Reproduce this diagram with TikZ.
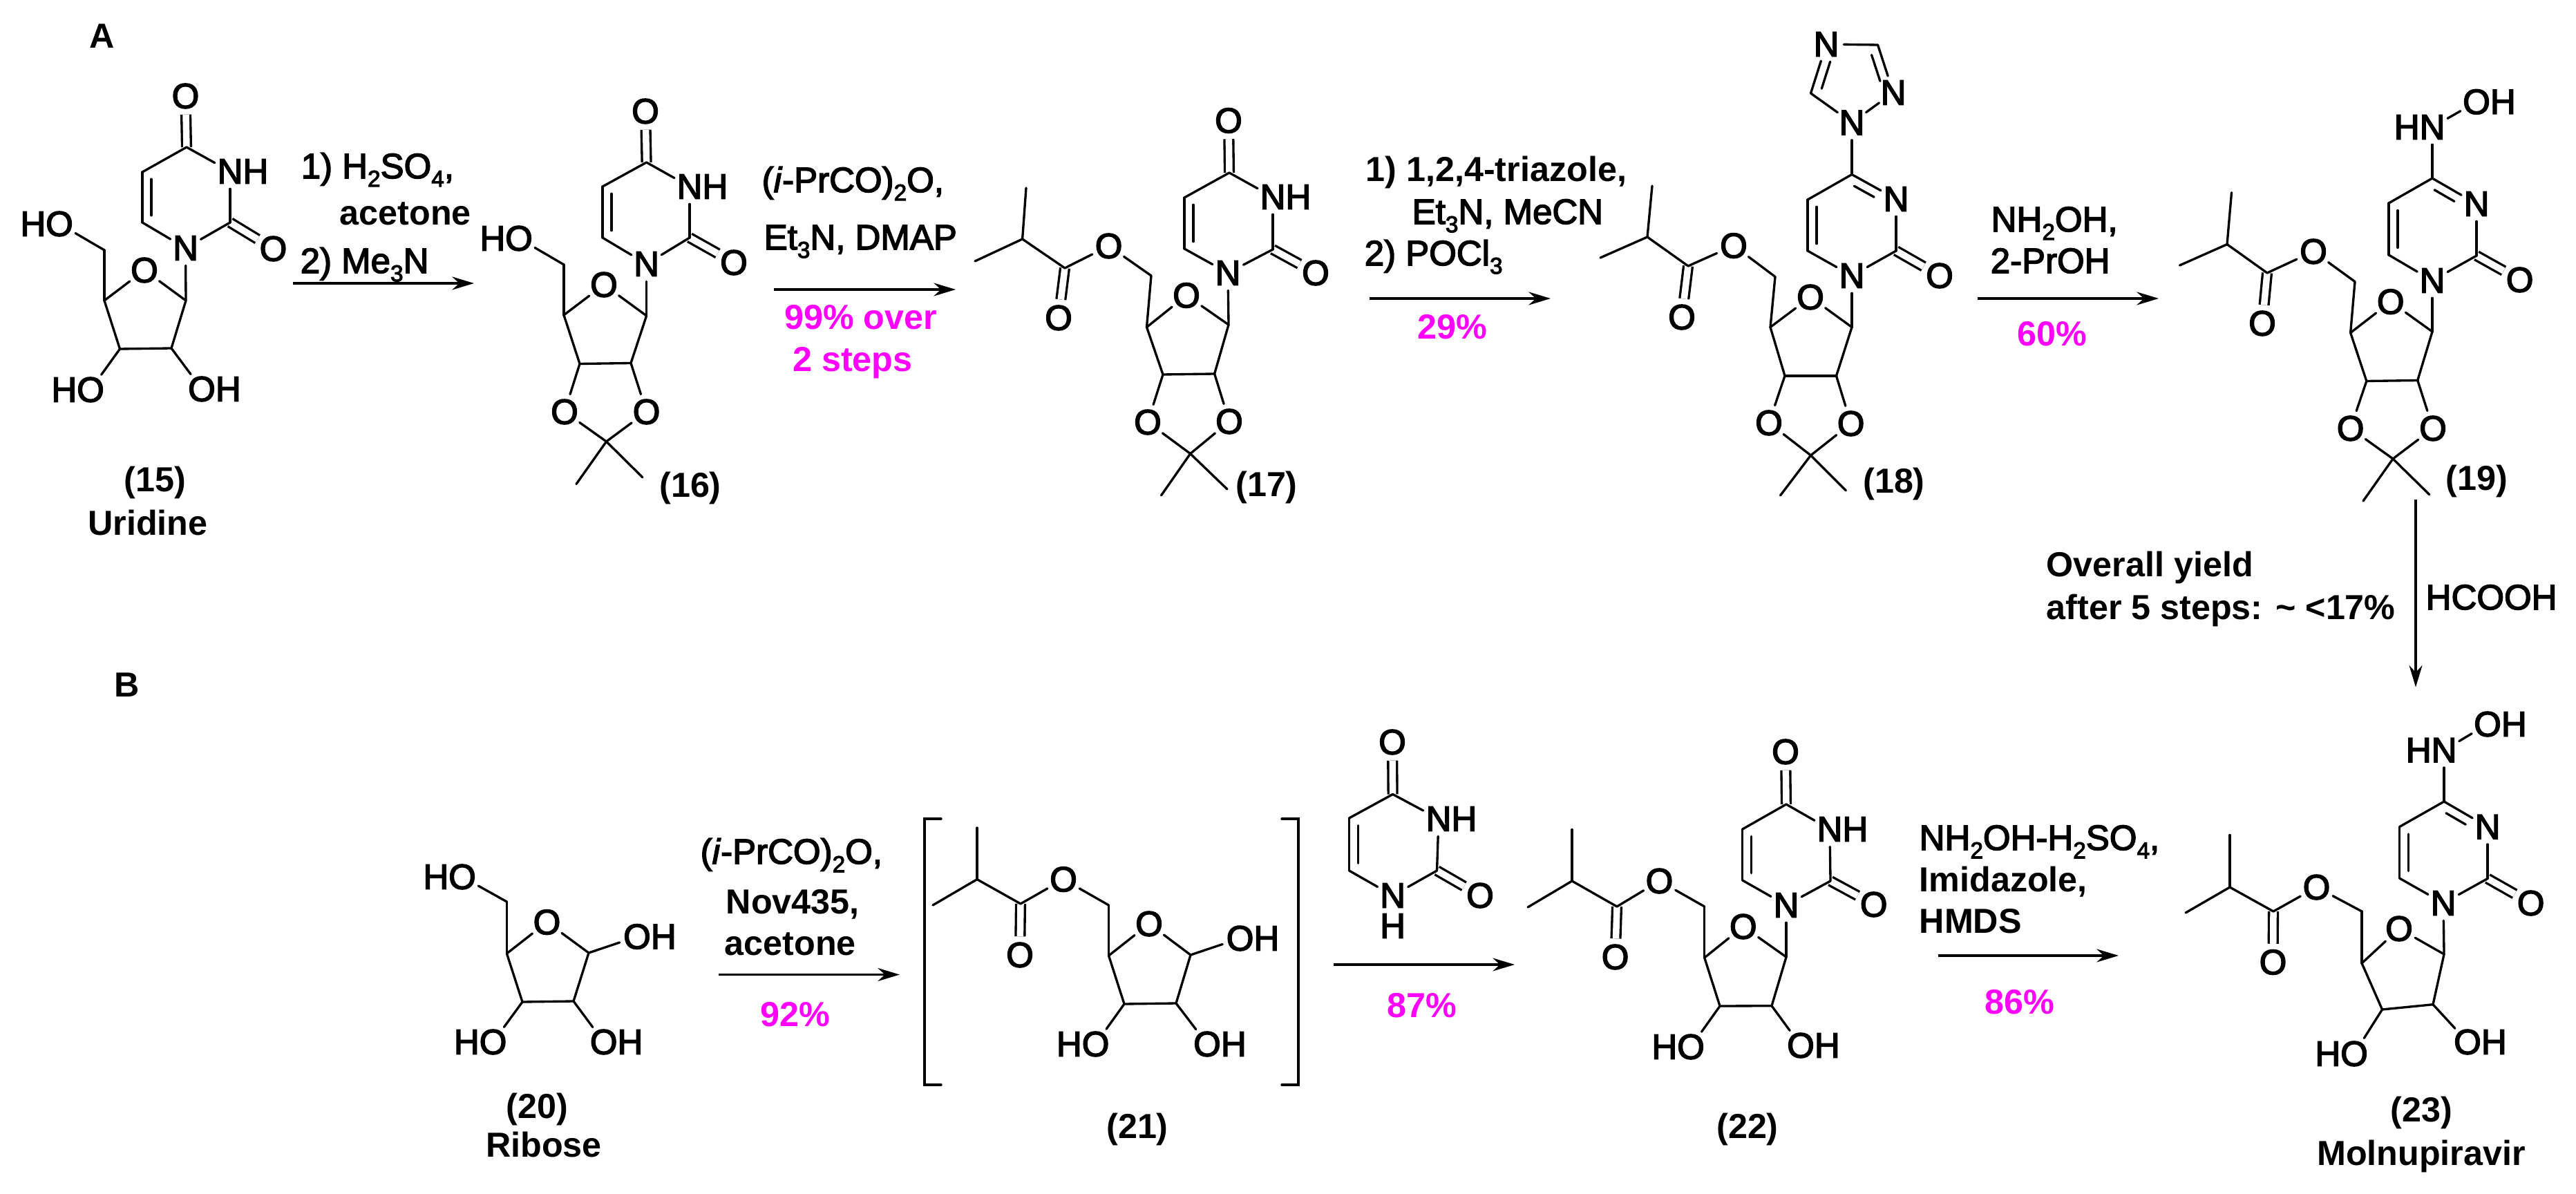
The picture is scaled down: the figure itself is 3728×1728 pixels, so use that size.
\documentclass[tikz,border=0pt]{standalone}
\usepackage{fontspec}
\setmainfont{Liberation Sans}
\newfontfamily\medfont[FakeBold=3]{Liberation Sans}
\usetikzlibrary{arrows.meta, calc, positioning}

\definecolor{yieldpink}{RGB}{255,0,255}
\newcommand{\chemsub}[1]{\raisebox{-.24em}{\fontsize{9.5pt}{9.5pt}\selectfont #1}}

\tikzset{
    atom/.style={circle, inner sep=0pt, outer sep=0pt, font=\medfont\fontsize{14.5pt}{14.5pt}\selectfont},
    reag/.style={anchor=base west, inner sep=0pt, font=\medfont\fontsize{14.5pt}{14.5pt}\selectfont},
    reagb/.style={anchor=base west, inner sep=0pt, font=\bfseries\fontsize{14.3pt}{14.3pt}\selectfont},
    yld/.style={anchor=base, inner sep=0pt, text=yieldpink, font=\bfseries\fontsize{14.3pt}{14.3pt}\selectfont},
    lbl/.style={inner sep=0pt, font=\bfseries\fontsize{14.3pt}{14.3pt}\selectfont},
    bond/.style={line width=.95pt, line cap=round},
    dblbond/.style={line width=.95pt, double, double distance=.095cm},
    rxn/.style={line width=.95pt, -{Stealth[length=9pt,width=5.4pt]}}
}

% placing: prefix, carbons, labelled atoms
\newcommand{\molatoms}[3]{
    \foreach \n/\x/\y in {#2} \coordinate (#1\n) at (\x,\y);
    \foreach \n/\x/\y/\lab in {#3} \node[atom] (#1\n) at (\x,\y) {\lab};
}
\newcommand{\bonds}[2]{\foreach \a/\b in {#2} \draw[bond] (#1\a) -- (#1\b);}
\newcommand{\ringdbl}[5]{\draw[bond] ($(#1)!#4!(#2)!.13cm!#3:(#2)$) -- ($(#1)!#5!(#2)!.13cm!#3:(#2)$);}
\newcommand{\pyrimring}[1]{
    \draw[dblbond] (#1c2) -- (#1o2);
    \bonds{#1}{c4/c5, c5/c6, c6/n1, n1/c2, c2/n3, n3/c4}
    \ringdbl{#1c5}{#1c6}{90}{.14}{.86}
}
\newcommand{\furanose}[1]{\bonds{#1}{c1p/o4p, o4p/c4p, c4p/c3p, c3p/c2p, c2p/c1p, c4p/c5p}}
\newcommand{\acetonide}[1]{\bonds{#1}{c3p/o3p, c2p/o2p, o3p/cq, o2p/cq, cq/me1, cq/me2}}
\newcommand{\esterside}[1]{
    \draw[dblbond] (#1cc) -- (#1oc);
    \bonds{#1}{c5p/o5p, o5p/cc, cc/ch, ch/me3, ch/me4}
}

\begin{document}
\begin{tikzpicture}[x=.01cm, y=-.01cm]
    \useasboundingbox (0,0) rectangle (3728,1728);

    % panel letters
    \node[reagb] (panelA) at (129,70) {A};
    \node[reagb] (panelB) at (165,1008) {B};

    % (15)
    \molatoms{a}{c4/270/213, c5/206/249, c6/206/322, c2/333/322, c1p/269/435, c4p/151/435, c3p/173.5/505, c2p/248/504, c5p/151/362}
        {o4/268.5/139/O, n3/333/248/N\rlap{H}, n1/268.5/359/N, o2/395.5/360/O, o4p/209/391/O, o5p/86/324/\llap{H}O, o3p/131/564/\llap{H}O, o2p/292/563/O\rlap{H}}
    \draw[dblbond] (ac4) -- (ao4);
    \pyrimring{a}
    \furanose{a}
    \bonds{a}{c1p/n1, c5p/o5p, c3p/o3p, c2p/o2p}
    \node[lbl] (anum) at (224.5,698) {(15)};
    \node[lbl] (aname) at (214,757) {Uridine};

    % (16)
    \molatoms{b}{c4/935.6/235, c5/872/270, c6/872/344, c2/998/344, c1p/935.6/457, c4p/816/456, c3p/839/526.5, c2p/913/525.5, c5p/816/383, cq/877.5/639, me1/834/700.5, me2/930/691}
        {o4/934/161/O, n3/998/270/N\rlap{H}, n1/935.6/382/N, o2/1062/380/O, o4p/874/412/O, o5p/751/345/\llap{H}O, o3p/817/596/O, o2p/935.6/596/O}
    \draw[dblbond] (bc4) -- (bo4);
    \pyrimring{b}
    \furanose{b}
    \acetonide{b}
    \bonds{b}{c1p/n1, c5p/o5p}
    \node[lbl] (bnum) at (999,706) {(16)};

    % (17)
    \molatoms{c}{c4/1779/250, c5/1714/286, c6/1714/360, c2/1842/361, c1p/1778/470, c4p/1659.5/473.5, c3p/1683/542, c2p/1757.6/541, c5p/1666/399, cq/1722.6/656.6, me1/1680.5/717, me2/1776/708, cc/1541/388, ch/1479.6/346, me3/1485/272, me4/1411/378}
        {o4/1778/174.5/O, n3/1842/285/N\rlap{H}, n1/1777/395/N, o2/1904/395/O, o4p/1717/427.5/O, o5p/1604.6/356/O, o3p/1661/611/O, o2p/1779/610/O, oc/1532/460/O}
    \draw[dblbond] (cc4) -- (co4);
    \pyrimring{c}
    \furanose{c}
    \acetonide{c}
    \esterside{c}
    \bonds{c}{c1p/n1}
    \node[lbl] (cnum) at (1833,705.6) {(17)};

    % (18)
    \molatoms{d}{c4/2680/252.5, c5/2616/289, c6/2616/363, c2/2744/363, c1p/2680/473.5, c4p/2562/473.5, c3p/2583/544, c2p/2657.5/544, c5p/2569/400.5, cq/2620.5/659, me1/2576.5/717, me2/2671.5/710, cc/2443/385, ch/2384/343, me3/2391/269, me4/2316/373, tc5/2620.5/135, tc3/2717.5/65}
        {nx/2680/177.5/N, tn4/2643/64/N, tn2/2740/134/N, n3/2744/288/N, n1/2680/399/N, o2/2807/399/O, o4p/2620/430/O, o5p/2509/355.6/O, o3p/2560/612/O, o2p/2678.6/613/O, oc/2434/459/O}
    \pyrimring{d}
    \furanose{d}
    \acetonide{d}
    \esterside{d}
    \bonds{d}{c1p/n1, c4/nx, nx/tc5, tc5/tn4, tn4/tc3, tc3/tn2, tn2/nx}
    \ringdbl{dc4}{dn3}{-90}{.15}{.6}
    \ringdbl{dtn4}{dtc5}{90}{.3}{.85}
    \ringdbl{dtc3}{dtn2}{-90}{.15}{.7}
    \node[lbl] (dnum) at (2741,700) {(18)};

    % (19)
    \molatoms{e}{c4/3520/258, c5/3457/294, c6/3457/369, c2/3584/370, c1p/3520/480, c4p/3401.6/481.6, c3p/3424.8/551.5, c2p/3498.7/550.5, c5p/3408/407.6, cq/3463/664, me1/3420/725, me2/3516/716, cc/3281/395, ch/3223/353.6, me3/3229.5/278.6, me4/3154.5/384}
        {nx/3520/184/\llap{H}N, ox/3584/147.4/O\rlap{H}, n3/3584/295/N, n1/3520/406/N, o2/3646.6/405/O, o4p/3459.7/436.7/O, o5p/3348/364/O, o3p/3401.6/620/O, o2p/3521/620/O, oc/3274/468/O}
    \pyrimring{e}
    \furanose{e}
    \acetonide{e}
    \esterside{e}
    \bonds{e}{c1p/n1, c4/nx, nx/ox}
    \ringdbl{ec4}{en3}{-90}{.15}{.6}
    \node[lbl] (enum) at (3584,696) {(19)};

    % (20)
    \molatoms{f}{c1p/852/1379, c4p/733.4/1380, c3p/756/1450, c2p/830/1449, c5p/733.4/1305}
        {o4p/791.5/1334.6/O, o5p/669/1269/\llap{H}O, o1p/922/1355.5/O\rlap{H}, o3p/713.6/1508/\llap{H}O, o2p/873.7/1508/O\rlap{H}}
    \furanose{f}
    \bonds{f}{c5p/o5p, c1p/o1p, c3p/o3p, c2p/o2p}
    \node[lbl] (fnum) at (777.4,1605) {(20)};
    \node[lbl] (fname) at (787,1657) {Ribose};

    % (21)
    \molatoms{g}{c1p/1723/1382, c4p/1604.5/1383, c3p/1627/1453, c2p/1702/1452, c5p/1604.5/1310, cc/1477/1308, ch/1414/1272.6, me3/1414/1198, me4/1350/1310}
        {o4p/1663/1337/O, o5p/1539/1272.6/O, o1p/1794.6/1358/O\rlap{H}, o3p/1585.6/1511/\llap{H}O, o2p/1747/1511/O\rlap{H}, oc/1476/1382/O}
    \furanose{g}
    \esterside{g}
    \bonds{g}{c1p/o1p, c3p/o3p, c2p/o2p}
    \node[lbl] (gnum) at (1646,1634) {(21)};
    \coordinate (brl1) at (1362,1185);
    \coordinate (brl2) at (1338,1185);
    \coordinate (brl3) at (1338,1570);
    \coordinate (brl4) at (1362,1570);
    \coordinate (brr1) at (1855,1185);
    \coordinate (brr2) at (1879,1185);
    \coordinate (brr3) at (1879,1570);
    \coordinate (brr4) at (1855,1570);
    \draw[bond] (brl1) -- (brl2) -- (brl3) -- (brl4);
    \draw[bond] (brr1) -- (brr2) -- (brr3) -- (brr4);

    % free uracil
    \molatoms{u}{c4/2015.6/1149.5, c5/1952.5/1184, c6/1952.5/1260, c2/2079.5/1260}
        {o4/2015/1074/O, n3/2082/1185/N\rlap{H}, n1/2015.6/1296/N, o2/2142/1296/O}
    \node[atom] (un1h) at (2015.6,1340) {H};
    \draw[dblbond] (uc4) -- (uo4);
    \pyrimring{u}

    % (22)
    \molatoms{h}{c4/2585/1164, c5/2521.7/1200, c6/2521.7/1274, c2/2649/1275, c1p/2585/1385, c4p/2466.7/1386, c3p/2489/1456, c2p/2564/1455.7, c5p/2466.7/1312, cc/2340/1312, ch/2275/1275, me3/2275/1200.6, me4/2211/1313}
        {o4/2584/1088/O, n3/2648/1200/N\rlap{H}, n1/2585/1310/N, o2/2711.7/1309/O, o4p/2522.8/1341/O, o5p/2401.5/1275/O, o3p/2447/1515/\llap{H}O, o2p/2606/1513/O\rlap{H}, oc/2337.6/1385/O}
    \draw[dblbond] (hc4) -- (ho4);
    \pyrimring{h}
    \furanose{h}
    \esterside{h}
    \bonds{h}{c1p/n1, c3p/o3p, c2p/o2p}
    \node[lbl] (hnum) at (2529,1634) {(22)};

    % (23)
    \molatoms{k}{c4/3537/1160, c5/3472.5/1196.6, c6/3472.5/1271, c2/3600/1271.5, c1p/3537/1381, c4p/3418/1394, c3p/3447.5/1461, c2p/3521/1453.7, c5p/3418/1319, cc/3290/1319, ch/3227/1284, me3/3227/1208.5, me4/3163/1321}
        {nx/3537/1085.6/\llap{H}N, ox/3600/1048/O\rlap{H}, n3/3600/1196.6/N, n1/3536/1307/N, o2/3662.6/1307/O, o4p/3472/1344/O, o5p/3352.5/1284/O, o3p/3407/1525/\llap{H}O, o2p/3571/1508/O\rlap{H}, oc/3289.5/1392.5/O}
    \pyrimring{k}
    \furanose{k}
    \esterside{k}
    \bonds{k}{c1p/n1, c4/nx, nx/ox, c3p/o3p, c2p/o2p}
    \ringdbl{kc4}{kn3}{-90}{.15}{.6}
    \node[lbl] (knum) at (3504,1610) {(23)};
    \node[lbl] (kname) at (3504,1673) {Molnupiravir};

    % reaction arrows
    \coordinate (ab1) at (424,410);    \coordinate (ab2) at (686,410);
    \coordinate (bc1) at (1120,419);   \coordinate (bc2) at (1383,419);
    \coordinate (cd1) at (1982,432);   \coordinate (cd2) at (2244,432);
    \coordinate (de1) at (2862,432);   \coordinate (de2) at (3124,432);
    \coordinate (ek1) at (3496,723);   \coordinate (ek2) at (3496,994.5);
    \coordinate (fg1) at (1040,1410.5); \coordinate (fg2) at (1302,1410.5);
    \coordinate (gh1) at (1930,1396);  \coordinate (gh2) at (2192,1396);
    \coordinate (hk1) at (2805,1383);  \coordinate (hk2) at (3066,1383);
    \foreach \s in {ab, bc, cd, de, ek, fg, gh, hk}
        \draw[rxn] (\s1) -- (\s2);

    % reagents and yields
    \node[reag] (ab1t) at (435,258) {1) H\chemsub{2}SO\chemsub{4},};
    \node[reagb] (ab2t) at (491,326) {acetone};
    \node[reag] (ab3t) at (434,395) {2) Me\chemsub{3}N};

    \node[reag] (bc1t) at (1102,278) {(\textit{i}-PrCO)\chemsub{2}O,};
    \node[reag] (bc2t) at (1105,361) {Et\chemsub{3}N, DMAP};
    \node[yld] (bc3t) at (1245.5,477) {99\% over};
    \node[yld] (bc4t) at (1234,538) {2 steps};

    \node[reagb] (cd1t) at (1976,263) {1) 1,2,4-triazole,};
    \node[reag] (cd2t) at (2043,324) {Et\chemsub{3}N, MeCN};
    \node[reag] (cd3t) at (1974,384) {2) POCl\chemsub{3}};
    \node[yld] (cd4t) at (2102,491) {29\%};

    \node[reag] (de1t) at (2881,335) {NH\chemsub{2}OH,};
    \node[reag] (de2t) at (2880,395) {2-PrOH};
    \node[yld] (de3t) at (2970,500.5) {60\%};

    \node[reagb] (ek1t) at (2961,834) {Overall yield};
    \node[reagb] (ek2t) at (2961,896.6) {after 5 steps: \textasciitilde{} <17\%};
    \node[reag] (ek3t) at (3510,882) {HCOOH};

    \node[reag] (fg1t) at (1013,1250) {(\textit{i}-PrCO)\chemsub{2}O,};
    \node[reagb] (fg2t) at (1050,1322) {Nov435,};
    \node[reagb] (fg3t) at (1048,1382) {acetone};
    \node[yld] (fg4t) at (1150.5,1485) {92\%};

    \node[yld] (gh1t) at (2058,1472.6) {87\%};

    \node[reag] (hk1t) at (2777,1230) {NH\chemsub{2}OH-H\chemsub{2}SO\chemsub{4},};
    \node[reagb] (hk2t) at (2777,1290) {Imidazole,};
    \node[reagb] (hk3t) at (2777,1350) {HMDS};
    \node[yld] (hk4t) at (2923,1467) {86\%};
\end{tikzpicture}
\end{document}
